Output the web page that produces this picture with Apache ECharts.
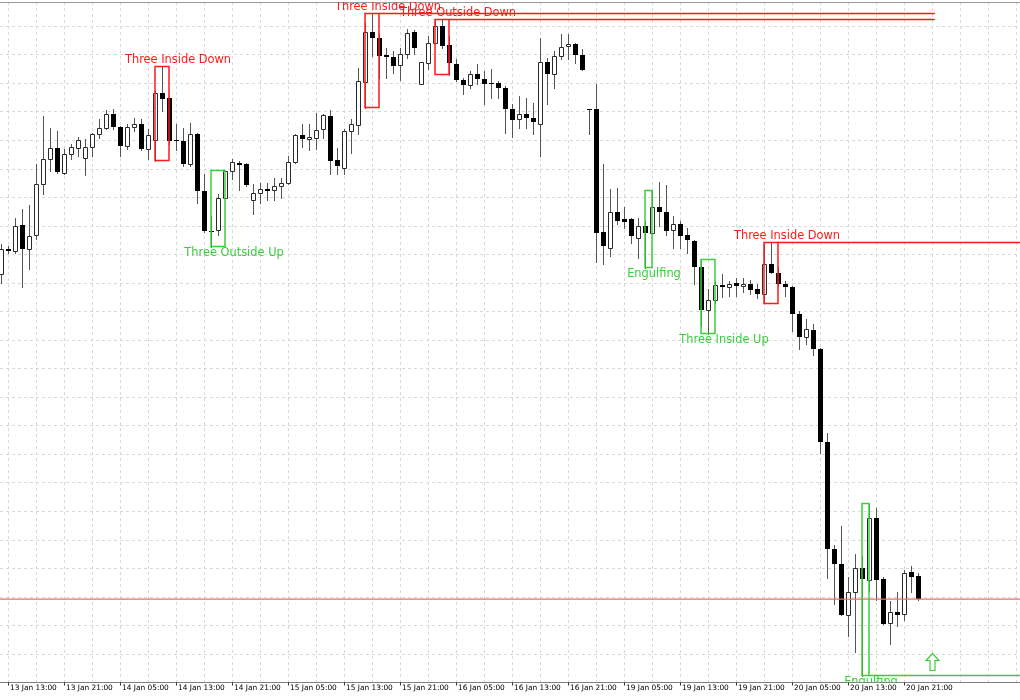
<!DOCTYPE html>
<html><head><meta charset="utf-8">
<script src="https://cdn.jsdelivr.net/npm/echarts@6/dist/echarts.min.js"></script>
<style>html,body{margin:0;padding:0;background:#fff}#c{width:1020px;height:700px}</style>
</head><body><div id="c"></div>
<script>
// x-axis tick labels (one every 8 hourly bars, starting at bar 1)
const tickLabels = ['13 Jan 13:00','13 Jan 21:00','14 Jan 05:00','14 Jan 13:00','14 Jan 21:00','15 Jan 05:00','15 Jan 13:00','15 Jan 21:00','16 Jan 05:00','16 Jan 13:00','16 Jan 21:00','19 Jan 05:00','19 Jan 13:00','19 Jan 21:00','20 Jan 05:00','20 Jan 13:00','20 Jan 21:00'];

// hourly OHLC (price in points)
const opens = [409,434,432,458,434,447,499,524,535,510,529,535,525,536,549,555,569,556,537,556,559,534,543,590,585,543,542,519,549,492,452,453,485,512,520,519,483,490,494,493,496,500,521,548,544,545,554,567,523,515,552,558,601,651,645,628,626,618,629,651,599,620,640,657,638,619,603,598,609,604,600,600,595,574,564,569,565,559,621,609,627,637,639,628,574,574,451,435,471,463,463,445,457,450,476,471,453,459,448,442,416,373,383,398,395,400,396,399,394,389,419,410,399,395,369,345,353,334,241,134,119,68,91,115,103,165,104,60,71,69,111,107];
const highs = [439,437,465,474,478,519,567,555,552,534,539,546,544,550,564,573,574,557,559,565,564,554,592,616,586,559,555,560,550,509,467,489,512,524,522,520,499,500,500,505,505,527,549,559,559,570,569,573,535,554,564,615,660,669,649,635,632,635,654,653,621,647,662,663,647,624,605,612,619,612,614,602,597,579,587,585,580,645,625,632,649,649,640,634,574,599,519,494,495,476,464,464,462,492,501,497,467,462,455,443,423,394,402,409,402,405,405,403,399,439,440,416,402,396,372,364,359,335,250,138,157,106,129,127,179,175,106,82,91,113,117,110];
const lows = [400,429,429,395,413,444,489,512,510,509,524,527,508,527,545,554,554,527,534,552,533,524,522,572,539,533,517,517,479,451,436,448,485,504,493,496,469,479,483,483,485,499,520,536,533,534,545,509,509,509,530,549,575,627,605,605,610,603,625,629,599,614,640,635,608,602,589,595,599,579,585,585,550,546,555,555,549,527,579,595,624,624,620,613,549,421,419,427,459,455,440,425,415,449,457,447,435,435,429,399,357,349,379,386,387,387,391,389,385,379,410,396,387,352,334,339,328,230,105,79,68,47,31,7,92,83,59,39,57,63,91,83];
const closes = [434,432,457,434,446,499,524,535,511,529,536,543,536,549,555,569,556,537,556,559,534,548,590,584,542,542,519,549,492,452,451,485,512,521,518,497,490,494,492,496,500,521,548,544,546,553,568,522,517,552,559,602,651,645,627,626,617,629,650,635,621,640,657,637,620,603,598,609,604,599,599,595,574,563,569,565,561,621,609,627,636,639,628,613,573,450,437,471,462,461,446,457,450,476,471,452,459,446,443,416,373,383,398,395,399,396,399,393,389,419,410,399,395,369,345,354,334,241,134,119,68,91,115,104,165,103,59,71,68,110,106,84];

// detected candlestick patterns (bar indices into the arrays above)
const patternNames = ['Three Inside Down','Three Outside Up','Three Inside Down','Three Outside Down','Engulfing','Three Inside Up','Three Inside Down','Engulfing'];
const patternStart = [22,30,52,62,92,100,109,123];
const patternEnd   = [24,32,54,64,93,102,111,124];
const patternBull  = [false,true,false,false,true,true,false,true];
// bar where the level line stops (-1: no line, 1e6: to the chart edge)
const patternLineEnd = [-1,-1,133.4,133.4,-1,-1,1e6,1e6];

// buy arrow
const arrowBar = [133];
const arrowPrice = [30];

const RED = '#ff1a1a', GREEN = '#3ccc3c';
const LEAD = 1;           // one empty slot before the first bar
const NCAT = 148;
const cats = new Array(NCAT).fill('');
tickLabels.forEach((t, n) => { cats[LEAD + 1 + 8 * n] = t; });
const tickFn = (i) => cats[i] !== '';
const gridFn = (i) => i >= LEAD + 1 && (i - LEAD - 1) % 4 === 0;

const candleData = opens.map((o, j) => [j + LEAD, o, closes[j], lows[j], highs[j]]);
const patternData = patternNames.map((n, p) => {
  let hi = -Infinity, lo = Infinity;
  for (let j = patternStart[p]; j <= patternEnd[p]; j++) { hi = Math.max(hi, highs[j]); lo = Math.min(lo, lows[j]); }
  return [patternStart[p] + LEAD, patternEnd[p] + LEAD, hi, lo];
});
const arrowData = arrowBar.map((b, i) => [b + LEAD, arrowPrice[i]]);
const lastClose = closes[closes.length - 1];

function catX(api, c) {
  const f = Math.floor(c), fr = c - f;
  const x0 = api.coord([f, 0])[0];
  if (!fr) return x0;
  const x1 = api.coord([f + 1, 0])[0];
  return x0 + (x1 - x0) * fr;
}

function renderCandle(params, api) {
  const cat = api.value(0), o = api.value(1), c = api.value(2), l = api.value(3), h = api.value(4);
  const x = Math.round(api.coord([cat, o])[0]);
  const yO = Math.round(api.coord([cat, o])[1]), yC = Math.round(api.coord([cat, c])[1]);
  const yH = Math.round(api.coord([cat, h])[1]), yL = Math.round(api.coord([cat, l])[1]);
  const top = Math.min(yO, yC), bot = Math.max(yO, yC);
  const ch = [{ type: 'line', shape: { x1: x + 0.5, y1: yH, x2: x + 0.5, y2: yL + 1 }, style: { stroke: '#555', lineWidth: 1 } }];
  if (c > o) {
    ch.push({ type: 'rect', shape: { x: x - 1.5, y: top + 0.5, width: 4, height: Math.max(bot - top, 1) }, style: { fill: '#fff', stroke: '#2a2a2a', lineWidth: 1 } });
  } else {
    ch.push({ type: 'rect', shape: { x: x - 2, y: top, width: 5, height: Math.max(bot - top, 1) }, style: { fill: '#000' } });
  }
  return { type: 'group', children: ch };
}

function renderPattern(params, api) {
  const p = params.dataIndex;
  const s = api.value(0), e = api.value(1), hi = api.value(2), lo = api.value(3);
  const cs = params.coordSys;
  const bull = patternBull[p];
  const col = bull ? GREEN : RED;
  const x1 = catX(api, s), x2 = catX(api, e);
  const yT = api.coord([s, hi])[1], yB = api.coord([s, lo])[1];
  const ch = [{ type: 'rect', shape: { x: x1, y: yT, width: x2 - x1, height: yB - yT }, style: { fill: 'none', stroke: col, lineWidth: 1.5 } }];
  const le = patternLineEnd[p];
  if (le >= 0) {
    const xe = le > 1e5 ? cs.x + cs.width : catX(api, le + LEAD);
    const yl = bull ? yB : yT;
    ch.push({ type: 'line', shape: { x1: x2, y1: yl, x2: xe, y2: yl }, style: { stroke: col, lineWidth: 1.5 } });
  }
  const off = (e - s) * 10.5 - 5;
  ch.push({ type: 'text', x: (x1 + x2) / 2 + off, y: bull ? yB + 1 : yT - 1,
    style: { text: patternNames[p], fill: col, font: '11.4px "DejaVu Sans"', textAlign: 'center', textVerticalAlign: bull ? 'top' : 'bottom' } });
  return { type: 'group', children: ch };
}

function renderArrow(params, api) {
  const pt = api.coord([api.value(0), api.value(1)]);
  const x = Math.round(pt[0]) + 0.5, y = Math.round(pt[1]) + 0.5;
  return { type: 'polygon', shape: { points: [[x, y], [x + 6.5, y + 7], [x + 2.5, y + 7], [x + 2.5, y + 17], [x - 2.5, y + 17], [x - 2.5, y + 7], [x - 6.5, y + 7]] },
    style: { fill: '#fff', stroke: GREEN, lineWidth: 1.2 } };
}

function renderBid(params, api) {
  const cs = params.coordSys;
  const y = Math.round(api.coord([api.value(0), api.value(1)])[1]) - 0.5;
  return { type: 'rect', shape: { x: cs.x, y: y, width: cs.width, height: 1.2 }, style: { fill: '#f06a6a' } };
}

const chart = echarts.init(document.getElementById('c'), null, { renderer: 'canvas' });
chart.setOption({
  animation: false,
  backgroundColor: '#fff',
  grid: { left: -6, right: -3, top: 2, bottom: 17.5, containLabel: false, outerBoundsMode: 'none' },
  xAxis: [{
    type: 'category', data: cats, boundaryGap: false,
    axisLine: { lineStyle: { color: '#808080', width: 1 } },
    axisTick: { interval: tickFn, length: 3, lineStyle: { color: '#333' } },
    axisLabel: { interval: tickFn, align: 'left', margin: 2, padding: [0, 0, 0, 2], fontSize: 7.4, fontFamily: 'DejaVu Sans', color: '#000' },
    splitLine: { show: true, interval: gridFn, lineStyle: { color: '#d9d9d9', type: [3, 3], width: 1 } }
  }, {
    type: 'category', data: cats, boundaryGap: false, position: 'top',
    axisLine: { lineStyle: { color: '#9a9a9a' } }, axisTick: { show: false }, axisLabel: { show: false }, splitLine: { show: false }
  }],
  yAxis: {
    type: 'value', min: 0, max: 680.5, interval: 28.54,
    axisLine: { show: false }, axisTick: { show: false }, axisLabel: { show: false },
    splitLine: { show: true, lineStyle: { color: '#d9d9d9', type: [3, 3], width: 1 } }
  },
  series: [
    { type: 'custom', name: 'bid', xAxisIndex: 0, clip: true, z: 4, data: [[LEAD, lastClose]], renderItem: renderBid },
    { type: 'custom', name: 'candles', xAxisIndex: 0, clip: true, z: 2, data: candleData, renderItem: renderCandle },
    { type: 'custom', name: 'patterns', xAxisIndex: 0, clip: true, z: 5, data: patternData, renderItem: renderPattern },
    { type: 'custom', name: 'arrow', xAxisIndex: 0, clip: true, z: 5, data: arrowData, renderItem: renderArrow }
  ]
});
</script></body></html>
